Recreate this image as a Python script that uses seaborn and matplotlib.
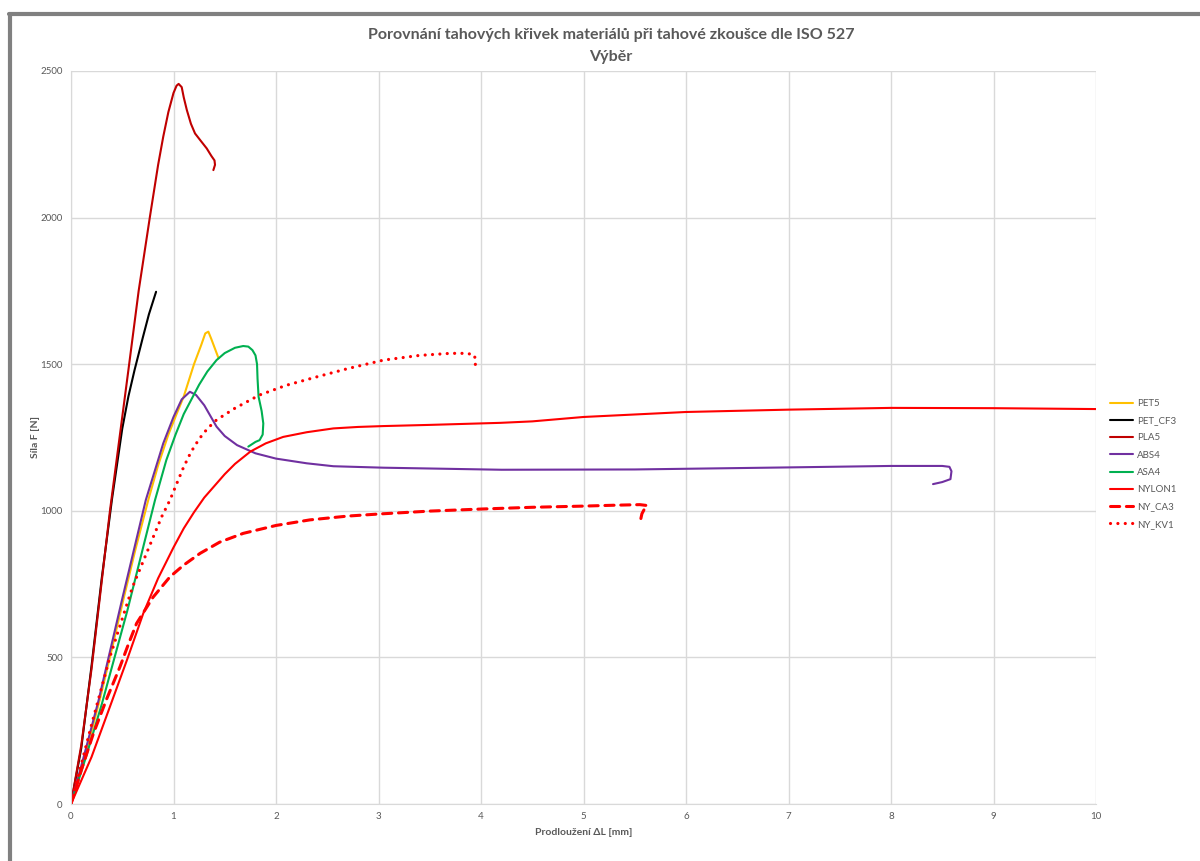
import matplotlib
matplotlib.use("Agg")
import matplotlib.pyplot as plt
import matplotlib.lines as mlines
import seaborn as sns

# Curves (elongation [mm], force [N])
pet5_x = [0, 0.15, 0.28, 0.4, 0.51, 0.63, 0.754, 0.85, 0.95, 1.03, 1.1, 1.2, 1.27, 1.31, 1.34, 1.37, 1.44]
pet5_y = [0, 180, 355, 530, 696, 870, 1037, 1155, 1260, 1330, 1390, 1500, 1565, 1605, 1611, 1585, 1520]

pet_cf3_x = [0, 0.1, 0.2, 0.3, 0.4, 0.5, 0.56, 0.62, 0.7, 0.76, 0.83]
pet_cf3_y = [0, 190, 470, 770, 1040, 1280, 1390, 1480, 1590, 1670, 1747]

pla5_x = [0, 0.1, 0.2, 0.3, 0.38, 0.47, 0.56, 0.66, 0.77, 0.85, 0.9, 0.95, 1.0, 1.03, 1.05,
          1.08, 1.1, 1.13, 1.17, 1.21, 1.27, 1.324, 1.37, 1.4, 1.405, 1.389]
pla5_y = [0, 200, 460, 760, 1000, 1240, 1480, 1750, 2003, 2180, 2276, 2360, 2425, 2450, 2456,
          2445, 2410, 2367, 2320, 2287, 2260, 2236, 2210, 2195, 2180, 2162]

abs4_x = [0, 0.15, 0.27, 0.5, 0.73, 0.9, 1.0, 1.08, 1.16, 1.22, 1.3, 1.42, 1.5, 1.62, 1.8, 2.0,
          2.3, 2.56, 3.05, 4.2, 5.5, 7.0, 8.0, 8.5, 8.57, 8.59, 8.58, 8.5, 8.41]
abs4_y = [0, 195, 355, 700, 1037, 1230, 1320, 1380, 1406, 1395, 1360, 1287, 1255, 1224, 1196, 1178,
          1162, 1152, 1147, 1140, 1141, 1148, 1153, 1153, 1150, 1135, 1108, 1098, 1091]

asa4_x = [0, 0.15, 0.3, 0.55, 0.7, 0.82, 0.93, 1.02, 1.1, 1.25, 1.33, 1.42, 1.5, 1.6, 1.68, 1.73,
          1.77, 1.8, 1.815, 1.82, 1.83, 1.86, 1.876, 1.87, 1.84, 1.8, 1.73]
asa4_y = [0, 165, 340, 660, 870, 1037, 1173, 1260, 1330, 1430, 1475, 1514, 1538, 1556, 1562, 1560,
          1548, 1530, 1500, 1450, 1389, 1340, 1298, 1260, 1241, 1235, 1219]

nylon1_x = [0, 0.2, 0.38, 0.55, 0.705, 0.85, 1.0, 1.1, 1.2, 1.3, 1.42, 1.5, 1.6, 1.75, 1.9, 2.07,
            2.3, 2.56, 2.8, 3.05, 3.5, 4.19, 4.5, 5, 6, 7, 8, 9, 10]
nylon1_y = [0, 160, 332, 495, 650, 770, 875, 940, 995, 1045, 1093, 1125, 1160, 1202, 1230, 1252,
            1268, 1281, 1286, 1289, 1293, 1300, 1305, 1320, 1337, 1345, 1351, 1350, 1347]

ny_ca3_x = [0, 0.1, 0.218, 0.35, 0.478, 0.56, 0.64, 0.8, 0.966, 1.1, 1.26, 1.45, 1.68, 2.0, 2.33,
            2.7, 3, 3.5, 4, 4.5, 5, 5.3, 5.55, 5.62, 5.6, 5.57, 5.55]
ny_ca3_y = [0, 115, 240, 360, 468, 545, 616, 705, 775, 815, 855, 893, 923, 950, 969,
            982, 989, 999, 1006, 1012, 1016, 1019, 1021, 1018, 1010, 990, 958]

ny_kv1_x = [0, 0.2, 0.38, 0.6, 0.885, 0.966, 1.04, 1.1, 1.17, 1.25, 1.33, 1.42, 1.6, 1.84, 2.1,
            2.4, 2.7, 3.05, 3.4, 3.7, 3.85, 3.93, 3.95, 3.94]
ny_kv1_y = [0, 270, 502, 740, 980, 1037, 1100, 1150, 1200, 1245, 1280, 1310, 1350, 1395, 1428,
            1457, 1485, 1514, 1530, 1537, 1537, 1533, 1514, 1485]

x_ticks = list(range(0, 11))
y_ticks = [0, 500, 1000, 1500, 2000, 2500]

title_text = "Porovnání tahových křivek materiálů při tahové zkoušce dle ISO 527\nVýběr"

sns.set_style("white")
plt.rcParams['font.family'] = ['Lato', 'DejaVu Sans']

fig = plt.figure(figsize=(12, 8.61), dpi=100)
ax = fig.add_axes([71 / 1200, 57 / 861, 1025 / 1200, 733 / 861])

curves = [
    ("PET5", pet5_x, pet5_y, "#FFC000", "-", 1.5),
    ("PET_CF3", pet_cf3_x, pet_cf3_y, "#000000", "-", 1.5),
    ("PLA5", pla5_x, pla5_y, "#C00000", "-", 1.5),
    ("ABS4", abs4_x, abs4_y, "#7030A0", "-", 1.5),
    ("ASA4", asa4_x, asa4_y, "#00B050", "-", 1.5),
    ("NYLON1", nylon1_x, nylon1_y, "#FF0000", "-", 1.5),
    ("NY_CA3", ny_ca3_x, ny_ca3_y, "#FF0000", (0, (3, 2.2)), 2.2),
    ("NY_KV1", ny_kv1_x, ny_kv1_y, "#FF0000", (0, (0.01, 2.3)), 2.3),
]

handles = []
for name, xs, ys, col, ls, lw in curves:
    sns.lineplot(x=xs, y=ys, ax=ax, sort=False, estimator=None, color=col,
                 linewidth=lw, linestyle=ls, dash_capstyle="round", solid_joinstyle="round")
    handles.append(mlines.Line2D([], [], color=col, linestyle=ls, linewidth=lw,
                                 dash_capstyle="round", label=name))

ax.set_xlim(0, 10)
ax.set_ylim(0, 2500)
ax.set_xticks(x_ticks)
ax.set_yticks(y_ticks)
ax.grid(True, color="#D9D9D9", linewidth=1)
for s in ["top", "right"]:
    ax.spines[s].set_visible(False)
for s in ["left", "bottom"]:
    ax.spines[s].set_color("#D9D9D9")
ax.tick_params(axis="both", labelsize=7, colors="#595959", length=0, pad=6)

ax.set_xlabel("Prodloužení ΔL [mm]", fontsize=7.5, fontweight="bold", color="#595959", labelpad=5)
ax.set_ylabel("Síla F [N]", fontsize=7.5, fontweight="bold", color="#595959", labelpad=0)

fig.text(611 / 1200, 1 - 46 / 861, title_text, ha="center", va="center", fontsize=11.5,
         fontweight="bold", color="#595959", linespacing=1.7)

ax.legend(handles=handles, loc="center left", bbox_to_anchor=(1.005, 0.464), frameon=False,
          fontsize=7, labelcolor="#595959", handlelength=2.4, labelspacing=0.85, handletextpad=0.4)

# grey frame of the chart object
fig.add_artist(mlines.Line2D([10 / 1200, 10 / 1200], [0, 1 - 14 / 861], transform=fig.transFigure,
                             color="#808080", linewidth=3))
fig.add_artist(mlines.Line2D([9 / 1200, 1], [1 - 14 / 861, 1 - 14 / 861], transform=fig.transFigure,
                             color="#808080", linewidth=3))

fig.savefig("out.png", dpi=100)
